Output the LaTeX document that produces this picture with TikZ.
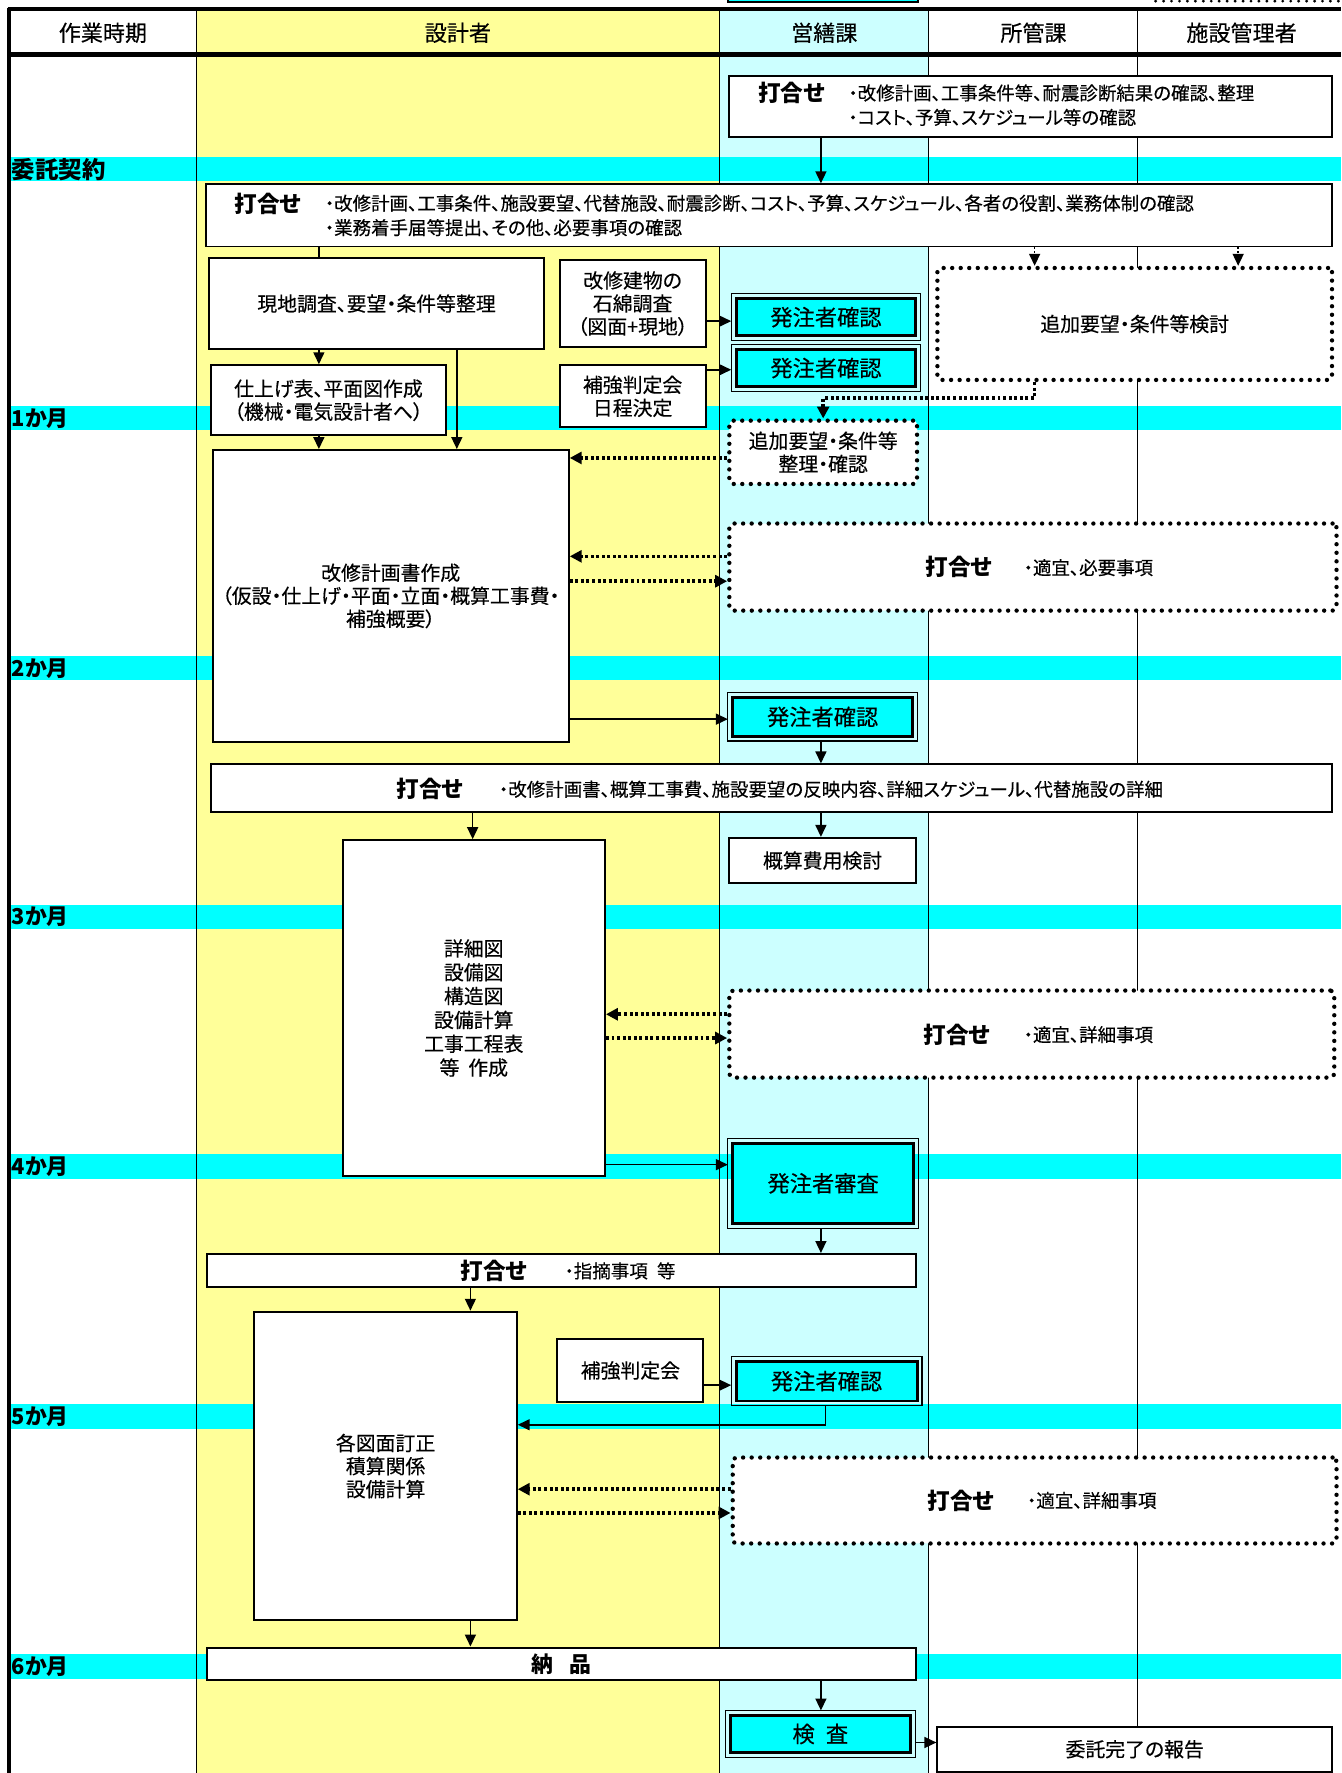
\documentclass[tikz,border=0pt]{standalone}
\usepackage{fontspec}
\setmainfont{Noto Sans CJK JP}[RawFeature=+palt, UprightFeatures={FakeBold=0.3}]
\usetikzlibrary{arrows.meta,calc}
\definecolor{ylw}{HTML}{FFFF99}
\definecolor{lcy}{HTML}{CCFFFF}
\definecolor{cyn}{HTML}{00FFFF}
\newcommand\myfs[2]{\fontsize{#1}{#2}\selectfont}
\begin{document}
\begin{tikzpicture}[x=0.02cm,y=-0.02cm,
  rc/.style args={#1/#2/#3/#4}{at={({(#1+#3)/2},{(#2+#4)/2})}, minimum width={(#3-#1)*0.02cm}, minimum height={(#4-#2)*0.02cm}},
  box/.style={draw, line width=1pt, fill=white, inner sep=0pt, align=center, font=\myfs{10}{11.6}},
  dbl/.style={draw, line width=1.5pt, fill=cyn, inner sep=0pt, align=center, font=\myfs{11.2}{13}},
  dotbox/.style={draw, fill=white, inner sep=0pt, line width=2.2pt, dash pattern=on 0pt off 4.3pt, line cap=round, rounded corners=2pt, align=center, font=\myfs{10}{11.6}},
  bold/.style={font=\bfseries\myfs{11.4}{13}, inner sep=0pt},
  small/.style={font=\myfs{9.3}{12.3}, inner sep=0pt, align=left, anchor=west},
  hdr/.style={font=\myfs{11.1}{13}, inner sep=0pt},
  mon/.style={font=\bfseries\myfs{11}{13}, inner sep=0pt, anchor=west},
  arr/.style={line width=0.8pt, -{Triangle[length=6pt,width=5.5pt]}},
  plain/.style={line width=0.8pt},
  darr/.style={line width=1.8pt, dash pattern=on 1.5pt off 1.3pt, -{Triangle[length=6pt,width=6pt]}},
  tdarr/.style={line width=0.8pt, dash pattern=on 1pt off 1pt, -{Triangle[length=6pt,width=5.5pt]}},
  frame/.style={line width=0.6pt}
]
\useasboundingbox (0,0) rectangle (1186,1568);
\begin{scope}
\clip (0,0) rectangle (1186,1568);
% backgrounds
\fill[white] (0,0) rectangle (1186,1568);
\fill[ylw] (174,8) rectangle (636,1568);
\fill[lcy] (636,8) rectangle (821,1568);
\foreach \y in {139,359,580,800,1021,1242,1463} \fill[cyn] (8,\y) rectangle (1186,\y+21.5);
% cut-off items at the top
\draw[line width=0.9pt, fill=cyn] (644,-6) rectangle (812,1.5);
\draw[line width=1.6pt, dash pattern=on 0pt off 4pt, line cap=round] (1022,1) -- (1186,1);
% grid
\foreach \x in {174,636,821,1006} \draw[line width=0.6pt] (\x,8) -- (\x,1568);
\draw[line width=2.4pt] (6.8,8) -- (1186,8);
\draw[line width=2.4pt] (6.8,48) -- (1186,48);
\draw[line width=2.4pt] (8,6.8) -- (8,1568);
\end{scope}
% header
\node[hdr] (h1) at (91,29) {作業時期};
\node[hdr] (h2) at (405,29) {設計者};
\node[hdr] (h3) at (729,29) {営繕課};
\node[hdr] (h4) at (914,29) {所管課};
\node[hdr] (h5) at (1098,29) {施設管理者};
% month labels
\node[mon, font=\bfseries\myfs{11.8}{13}] (b0) at (10,150) {委託契約};
\node[mon] (b1) at (10,370) {1か月};
\node[mon] (b2) at (10,591) {2か月};
\node[mon] (b3) at (10,811) {3か月};
\node[mon] (b4) at (10,1032) {4か月};
\node[mon] (b5) at (10,1253) {5か月};
\node[mon] (b6) at (10,1474) {6か月};
% helper coordinates
\foreach \v in {282,404,416,418,726,728,730,915,1095} \coordinate (X\v) at (\v,0);
\foreach \v in {284,327,352,405,492,514,636,897,918,1030,1225,1260,1317,1338,1541} \coordinate (Y\v) at (0,\v);
% nodes
\node[box, rc=645/67/1178/121] (m0) {};
\node[bold] (m0b) at (700,82) {打合せ};
\node[small] (m0t) at (750,93) {・改修計画、工事条件等、耐震診断結果の確認、整理\\・コスト、予算、スケジュール等の確認};

\node[box, rc=182/163/1178/218] (m1) {};
\node[bold] (m1b) at (237,180) {打合せ};
\node[small] (m1t) at (287,190.5) {・改修計画、工事条件、施設要望、代替施設、耐震診断、コスト、予算、スケジュール、各者の役割、業務体制の確認\\・業務着手届等提出、その他、必要事項の確認};

\node[box, rc=185/228/481/309] (genchi) {現地調査、要望・条件等整理};
\node[box, rc=495/230/624/307] (sekimen) {改修建物の\\石綿調査\\（図面+現地）};
\node[dbl, rc=651/264/810/297] (hk1) {発注者確認};
\node[box, rc=495/323/624/378] (hoki1) {補強判定会\\日程決定};
\node[dbl, rc=651/309/810/342] (hk2) {発注者確認};
\node[dotbox, rc=829/237/1178/336] (tuika1) {追加要望・条件等検討};
\node[box, rc=187/323/394/385] (shiage) {仕上げ表、平面図作成\\（機械・電気設計者へ）};
\node[dotbox, rc=645/372/811/428] (tuika2) {追加要望・条件等\\整理・確認};
\node[box, rc=188/398/503/656] (kaishu) {改修計画書作成\\（仮設・仕上げ・平面・立面・概算工事費・\\補強概要）};

\node[dotbox, rc=645/463/1182/540] (m2) {};
\node[bold] (m2b) at (848,501) {打合せ};
\node[small] (m2t) at (905,502) {・適宜、必要事項};

\node[dbl, rc=648/617/807/651] (hk3) {発注者確認};

\node[box, rc=187/676/1178/718] (m3) {};
\node[bold] (m3b) at (380,698) {打合せ};
\node[small] (m3t) at (441,698) {・改修計画書、概算工事費、施設要望の反映内容、詳細スケジュール、代替施設の詳細};

\node[box, rc=645/741/810/781] (gaisan) {概算費用検討};
\node[box, rc=303/743/535/1040, font=\myfs{10}{12}] (shosai) {詳細図\\設備図\\構造図\\設備計算\\工事工程表\\等\hspace{0.45em}作成};

\node[dotbox, rc=645/876/1180/953] (m4) {};
\node[bold] (m4b) at (846,915) {打合せ};
\node[small] (m4t) at (905,915) {・適宜、詳細事項};

\node[dbl, rc=648/1011/808/1082] (hs) {発注者審査};

\node[box, rc=183/1109/810/1138] (m5) {};
\node[bold] (m5b) at (437,1124) {打合せ};
\node[small] (m5t) at (499,1124) {・指摘事項\hspace{0.5em}等};

\node[box, rc=493/1184/622/1240] (hoki2) {補強判定会};
\node[dbl, rc=651/1204/811/1239] (hk4) {発注者確認};
\node[box, rc=225/1160/457/1433] (kakuzu) {各図面訂正\\積算関係\\設備計算};

\node[dotbox, rc=648/1289/1182/1365] (m6) {};
\node[bold] (m6b) at (850,1327) {打合せ};
\node[small] (m6t) at (908,1327) {・適宜、詳細事項};

\node[box, rc=183/1457/810/1486, font=\bfseries\myfs{11}{13}] (nohin) {納\hspace{0.7em}品};
\node[dbl, rc=646/1517/805/1550] (ken) {検\hspace{0.5em}査};
\node[box, rc=829/1527/1178/1567] (kanryo) {委託完了の報告};

% outer frames of the double boxes
\foreach \n in {hk1,hk2,hk3,hs,hk4,ken}
  \draw[frame] ([shift={(-3,-3)}]\n.north west) rectangle ([shift={(3,3)}]\n.south east);

% connectors
\draw[arr] (m0.south -| X726) -- (m1.north -| X726);
\draw[plain] (m1.south -| X282) -- (genchi.north -| X282);
\draw[tdarr] (m1.south -| X915) -- (tuika1.north -| X915);
\draw[tdarr] (m1.south -| X1095) -- (tuika1.north -| X1095);
\draw[arr] (genchi.south -| X282) -- (shiage.north -| X282);
\draw[arr] (genchi.south -| X404) -- (kaishu.north -| X404);
\draw[arr] (sekimen.east |- Y284) -- ([xshift=-3*0.02cm]hk1.west |- Y284);
\draw[arr] (hoki1.east |- Y327) -- ([xshift=-3*0.02cm]hk2.west |- Y327);
\draw[darr] (tuika1.south -| X915) |- (X728 |- Y352) -- (tuika2.north);
\draw[arr] (shiage.south -| X282) -- (kaishu.north -| X282);
\draw[darr] (tuika2.west |- Y405) -- (kaishu.east |- Y405);
\draw[darr] (m2.west |- Y492) -- (kaishu.east |- Y492);
\draw[darr] (kaishu.east |- Y514) -- (m2.west |- Y514);
\draw[arr] (kaishu.east |- Y636) -- ([xshift=-3*0.02cm]hk3.west |- Y636);
\draw[arr] ([yshift=-3*0.02cm]hk3.south -| X726) -- (m3.north -| X726);
\draw[arr] (m3.south -| X418) -- (shosai.north -| X418);
\draw[arr] (m3.south -| X726) -- (gaisan.north -| X726);
\draw[darr] (m4.west |- Y897) -- (shosai.east |- Y897);
\draw[darr] (shosai.east |- Y918) -- (m4.west |- Y918);
\draw[arr] (shosai.east |- Y1030) -- ([xshift=-3*0.02cm]hs.west |- Y1030);
\draw[arr] ([yshift=-3*0.02cm]hs.south -| X726) -- (m5.north -| X726);
\draw[arr] (m5.south -| X416) -- (kakuzu.north -| X416);
\draw[arr] (hoki2.east |- Y1225) -- ([xshift=-3*0.02cm]hk4.west |- Y1225);
\draw[arr] ([yshift=-3*0.02cm]hk4.south -| X730) |- (kakuzu.east |- Y1260);
\draw[darr] (m6.west |- Y1317) -- (kakuzu.east |- Y1317);
\draw[darr] (kakuzu.east |- Y1338) -- (m6.west |- Y1338);
\draw[arr] (kakuzu.south -| X416) -- (nohin.north -| X416);
\draw[arr] (nohin.south -| X726) -- ([yshift=3*0.02cm]ken.north -| X726);
\draw[arr] ([xshift=3*0.02cm]ken.east |- Y1541) -- (kanryo.west |- Y1541);
\end{tikzpicture}
\end{document}
